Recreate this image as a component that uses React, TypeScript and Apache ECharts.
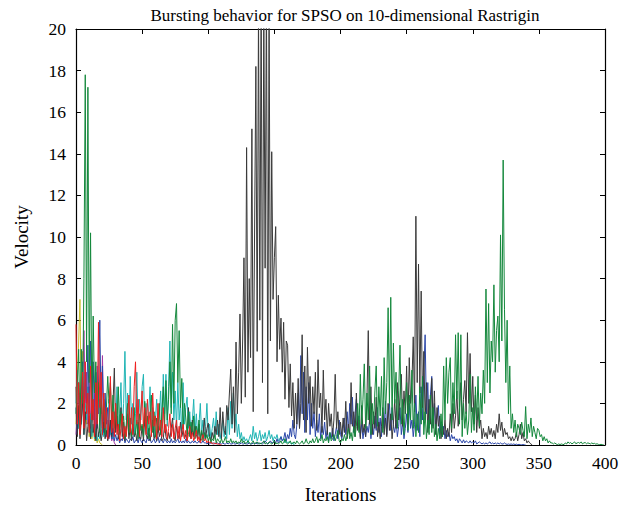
import React, { useEffect, useRef } from "react";
import * as echarts from "echarts";

const TITLE = "Bursting behavior for SPSO on 10-dimensional Rastrigin";
const X_NAME = "Iterations";
const Y_NAME = "Velocity";
const X_MIN = 0, X_MAX = 400, X_STEP = 50;
const Y_MIN = 0, Y_MAX = 20, Y_STEP = 2;

// velocity per iteration (index = iteration), one particle per array
const black = [
  2.8,0.4,1.9,0.3,1.2,2.1,0.5,1.6,0.2,0.9,
  1.4,0.3,2.2,0.6,1.0,0.2,1.3,0.4,0.8,0.2,
  0.6,1.1,0.3,0.7,0.2,0.5,1.2,0.4,2.0,3.7,
  0.6,1.4,0.3,0.9,1.8,0.4,1.1,0.2,0.7,1.5,
  0.3,0.8,0.2,1.0,0.4,0.6,0.2,1.1,0.4,0.3,
  0.9,0.2,1.4,0.5,0.3,0.8,0.2,0.6,1.2,0.3,
  0.5,0.2,0.9,0.4,0.7,0.2,0.3,1.0,0.4,0.2,
  0.6,0.3,0.8,1.3,0.4,0.2,0.9,0.5,0.3,1.1,
  0.4,0.7,0.3,0.5,0.2,1.8,0.6,0.3,1.2,0.4,
  0.9,0.5,0.3,1.0,0.2,0.6,0.4,1.3,0.3,0.8,
  1.05,0.4,0.2,0.6,0.3,0.9,0.5,1.2,0.4,1.8,
  0.3,1.6,0.7,0.5,1.9,1.2,2.5,3.65,1.0,2.8,
  0.6,4.95,1.5,3.5,6.3,2.0,5.0,9.0,2.3,14.3,
  3.5,8.0,4.2,15.2,1.6,10.0,18.2,4.5,21,6.0,
  22,3.0,21,8.5,22,1.5,21,5.0,14.1,7.0,
  9.0,10.5,4.0,7.2,4.6,6.1,3.5,5.9,2.2,5.0,
  4.8,1.8,3.9,1.4,3.0,0.8,2.5,1.0,3.2,0.8,
  2.0,5.3,1.2,3.8,0.6,4.7,2.0,3.3,0.9,2.8,
  1.5,3.5,0.7,4.1,1.8,2.5,0.6,3.6,1.2,2.2,
  0.5,2.0,0.9,1.5,0.4,1.2,3.4,0.8,1.6,0.5,
  1.1,0.4,1.3,0.6,2.1,0.3,1.0,0.5,3.0,0.9,
  1.6,0.4,2.5,0.7,1.2,0.3,1.9,0.6,1.0,0.4,
  2.2,5.5,1.0,2.8,0.5,1.6,0.8,2.3,0.4,1.1,
  0.3,0.9,1.8,0.5,1.3,0.4,2.0,0.7,1.5,0.3,
  1.0,2.2,0.8,3.0,1.2,2.4,3.4,0.9,2.6,1.5,
  3.8,1.0,4.2,2.0,3.0,5.2,1.6,11.0,3.0,8.7,
  2.5,7.4,1.8,4.5,1.2,3.0,0.6,2.2,1.0,3.2,
  0.8,2.6,0.5,1.8,0.9,1.4,0.3,1.0,0.5,1.2,
  0.3,0.8,0.4,1.5,0.6,2.0,0.8,1.4,2.6,0.9,
  1.8,3.0,1.2,2.2,3.1,1.5,5.4,2.0,4.4,1.6,
  3.3,1.0,2.4,0.6,1.8,0.8,1.2,0.3,0.8,0.4,
  0.6,0.3,0.9,0.5,0.8,0.4,0.7,0.3,1.0,0.6,
  1.5,0.7,1.1,0.4,0.8,0.5,0.6,0.3,0.4,0.2,
  0.4,0.2,0.3,0.6,0.2,0.5,1.0,0.3,0.6,0.2,
  0.3,0.1,0.2,0.1,0.05,0,
];

const green = [
  1.5,3.0,4.6,0.8,4.6,2.0,8.0,17.8,4.0,17.2,
  3.0,10.2,1.5,6.2,2.5,4.0,1.2,3.0,0.6,2.5,
  1.0,2.2,0.5,1.8,3.3,2.0,3.0,1.2,2.4,0.8,
  2.0,1.0,2.8,0.5,1.6,0.9,1.4,0.3,1.0,2.0,
  0.6,1.3,0.4,1.0,1.8,0.5,1.2,0.3,1.5,0.7,
  1.0,0.4,2.1,0.8,1.4,0.3,1.1,2.4,0.6,1.6,
  0.4,1.3,0.7,2.0,0.5,1.6,2.8,1.0,3.1,1.2,
  2.2,4.0,1.5,5.8,2.0,6.0,6.8,3.0,5.5,1.8,
  3.2,0.8,2.0,1.3,0.5,1.6,0.4,1.1,0.6,1.4,
  0.3,0.9,0.5,1.2,0.3,0.7,0.2,0.6,0.3,0.5,
  0.2,0.4,0.1,0.3,0.2,0.5,0.1,0.3,0.2,0.1,
  0.3,0.1,0.2,0.4,0.1,0.2,0.1,0.3,0.1,0.2,
  0.1,0.2,0.05,0.15,0.1,0.3,0.1,0.2,0.05,0.1,
  0.2,0.1,0.05,0.1,0.2,0.05,0.1,0.15,0.05,0.1,
  0.05,0.1,0.2,0.05,0.1,0.05,0.15,0.1,0.05,0.1,
  0.2,0.05,0.1,0.05,0.1,0.2,0.05,0.1,0.3,0.1,
  0.05,0.1,0.2,0.05,0.1,0.15,0.05,0.2,0.1,0.05,
  0.1,0.2,0.05,0.1,0.3,0.1,0.05,0.2,0.1,0.3,
  0.1,0.2,0.4,0.1,0.3,0.2,0.5,0.1,0.3,0.2,
  0.4,0.1,0.6,0.2,0.3,0.5,0.2,0.4,0.7,0.2,
  0.1,0.3,0.2,0.5,0.2,0.4,0.8,0.3,0.6,0.2,
  0.9,0.4,0.9,2.0,0.6,3.4,1.0,2.2,3.9,0.8,
  2.5,1.2,3.8,0.5,2.0,1.0,2.6,3.8,0.9,2.8,
  1.4,3.3,0.6,4.2,1.5,3.0,6.6,2.0,7.1,1.2,
  4.9,2.0,3.5,0.8,2.6,4.8,1.0,2.2,0.5,1.8,
  3.0,0.7,2.4,1.2,3.6,0.8,2.0,0.4,1.5,0.6,
  2.8,1.0,3.3,0.5,1.6,0.3,1.2,0.5,2.4,0.6,
  1.8,0.4,1.0,0.2,0.8,0.3,1.5,0.4,3.8,1.2,
  4.2,2.0,3.5,4.2,0.8,3.0,1.5,5.3,2.2,5.4,
  1.0,5.3,0.4,2.0,0.8,1.6,0.5,1.2,3.4,0.6,
  1.8,0.7,2.8,1.2,3.3,0.9,2.5,1.5,3.6,2.0,
  7.5,3.0,6.8,2.5,5.0,4.0,7.7,3.5,5.5,6.2,
  4.0,10.1,5.0,13.7,6.5,3.0,6.0,1.5,3.8,0.8,
  1.5,0.6,1.2,0.4,1.0,0.8,0.5,1.1,0.7,0.4,
  1.85,0.3,1.0,0.6,1.3,0.4,0.9,0.6,0.3,0.8,
  0.7,0.4,0.5,0.2,0.4,0.2,0.3,0.1,0.2,0.1,
  0.1,0.05,0.1,0.05,0.02,0.05,0.02,0.05,0.03,0.02,
  0.1,0.05,0.15,0.08,0.12,0.05,0.1,0.15,0.06,0.1,
  0.12,0.08,0.15,0.05,0.1,0.12,0.06,0.1,0.08,0.05,
  0.1,0.06,0.08,0.04,0.06,0.03,0.02,0.03,0.02,0.01,
];

const blue = [
  1.8,0.5,3.0,1.0,2.5,4.0,1.2,3.5,2.0,4.8,
  1.5,5.0,2.2,4.0,1.0,3.5,0.8,2.8,6.0,1.5,
  3.8,0.6,2.5,1.0,1.8,0.4,1.2,0.3,0.8,0.2,
  0.5,0.2,0.4,0.1,0.3,0.2,0.5,0.1,0.3,0.2,
  0.1,0.3,0.2,0.4,0.1,0.2,0.3,0.1,0.4,0.2,
  0.1,0.3,0.2,0.1,0.4,0.2,0.3,0.1,0.2,0.3,
  0.1,0.2,0.4,0.1,0.3,0.2,0.1,0.3,0.2,0.1,
  0.2,0.1,0.3,0.1,0.2,0.1,0.2,0.3,0.1,0.2,
  0.1,0.2,0.1,0.3,0.1,0.2,0.1,0.1,0.2,0.1,
  0.2,0.1,0.1,0.2,0.1,0.1,0.2,0.1,0.1,0.05,
  0.1,0.05,0.1,0.1,0.05,0.1,0.05,0.1,0.05,0.1,
  0.05,0.1,0.05,0.05,0.1,0.05,0.1,0.05,0.05,0.1,
  0.05,0.05,0.1,0.05,0.05,0.1,0.05,0.05,0.1,0.05,
  0.05,0.1,0.05,0.05,0.1,0.05,0.1,0.05,0.1,0.05,
  0.1,0.05,0.1,0.2,0.1,0.05,0.1,0.2,0.1,0.1,
  0.2,0.1,0.3,0.1,0.2,0.4,0.2,0.3,0.6,0.2,
  0.5,0.3,0.8,0.4,1.2,0.5,0.3,1.0,2.5,0.8,
  4.3,1.5,3.5,0.6,2.8,1.2,3.0,0.5,2.0,0.8,
  1.6,0.4,1.2,0.6,1.5,0.3,0.9,0.5,1.1,0.3,
  0.7,0.2,0.6,0.3,0.8,0.2,0.5,0.9,0.3,1.2,
  0.5,0.3,0.8,1.3,0.5,1.6,0.7,2.0,1.0,2.3,
  0.6,1.5,2.2,0.8,1.4,0.4,1.0,0.3,0.8,0.4,
  0.9,0.6,1.2,0.3,1.0,0.5,1.4,0.7,1.8,0.6,
  1.3,0.4,1.6,0.8,2.1,0.5,1.5,2.0,0.7,1.8,
  0.9,0.6,1.2,0.4,0.9,1.8,0.5,1.1,0.3,0.8,
  1.5,0.6,2.0,0.8,1.2,0.4,1.0,2.4,0.7,1.6,
  0.4,2.8,1.2,3.5,5.3,1.5,3.0,0.8,2.4,3.3,
  0.9,2.0,0.6,1.4,1.9,0.5,1.1,0.4,0.9,0.3,
  0.7,0.4,0.6,0.2,0.5,0.3,0.4,0.2,0.3,0.1,
  0.3,0.2,0.1,0.25,0.1,0.2,0.15,0.1,0.2,0.1,
  0.15,0.1,0.2,0.05,0.1,0.15,0.1,0.05,0.1,0.05,
  0.1,0.05,0.1,0.15,0.05,0.1,0.05,0.1,0.05,0.1,
  0.05,0.1,0.05,0.05,0.1,0.05,0.03,0.05,0.03,0.05,
  0.03,0.05,0.02,0.04,0.02,0.03,0.02,0.01,0.02,0.01,0,
];

const cyan = [
  2.0,3.6,0.8,2.5,1.0,3.0,0.5,2.0,1.2,2.8,
  0.6,1.5,0.4,1.0,0.3,0.8,0.2,0.6,0.3,0.5,
  1.2,0.4,1.8,0.6,1.0,2.2,0.5,1.4,0.3,1.6,
  0.8,2.8,0.7,1.5,3.0,0.6,2.0,4.5,1.2,2.5,
  0.5,3.3,1.0,2.0,0.4,1.5,3.5,0.8,2.2,1.2,
  2.8,3.4,0.9,2.0,0.5,1.6,2.8,0.7,1.8,0.4,
  1.2,2.2,0.6,1.4,2.6,0.8,3.4,1.5,3.4,0.9,
  2.8,5.0,1.8,3.5,1.2,2.6,0.8,3.0,1.2,2.0,
  0.5,3.0,1.0,1.8,2.3,0.8,1.6,0.5,1.2,2.2,
  0.6,1.5,0.4,1.0,2.0,0.5,1.2,0.3,0.9,2.0,
  0.4,1.0,0.3,0.8,1.3,0.4,1.6,0.5,1.0,0.3,
  0.7,1.2,0.4,0.9,0.3,1.8,0.5,2.1,0.8,2.5,
  0.7,1.5,0.4,1.0,0.3,0.6,0.2,0.4,0.2,0.3,
  0.1,0.3,0.5,0.2,0.9,0.3,0.6,0.2,0.4,0.7,
  0.2,0.5,0.3,0.6,0.2,0.4,0.7,0.3,0.5,0.2,
  0.4,0.3,0.5,0.2,0.3,0.4,0.2,0.3,0.1,0.2,
  0.1,0.15,0.1,0.05,0.1,0,
];

const red = [
  5.8,1.0,3.0,0.5,2.0,3.5,0.8,4.0,1.5,2.5,
  0.6,3.8,1.2,2.2,0.4,3.0,1.0,5.9,1.8,3.5,
  0.5,2.5,0.8,1.8,0.3,1.2,3.3,0.6,1.6,0.4,
  2.0,0.5,1.0,0.2,0.8,1.5,0.3,0.9,0.4,1.2,
  2.4,0.6,1.8,0.5,2.8,4.0,1.0,2.2,0.4,1.5,
  2.6,0.8,1.8,0.5,2.2,1.0,1.6,0.4,2.5,0.9,
  1.4,0.3,2.0,0.7,1.2,0.4,1.8,0.6,1.0,0.3,
  0.8,1.5,0.4,1.0,0.3,0.8,1.2,0.3,0.9,0.2,
  0.6,1.0,0.3,0.7,0.2,0.5,0.9,0.3,0.6,0.2,
  0.4,0.7,0.2,0.4,0.1,0.3,0.5,0.2,0.3,0.1,
  0.2,0.1,0.15,0.05,0.1,0.05,0.08,0.04,0.05,0.02,0,
];

const magenta = [
  0.5,1.5,0.8,2.5,1.0,3.0,5.5,2.0,3.5,1.0,
  2.8,0.8,4.0,1.2,2.5,0.5,3.8,1.5,2.2,0.8,
  4.3,1.0,2.0,0.4,1.2,0.3,0.7,0.2,0.4,0.1,0,
];

const yellow = [
  1.0,3.0,5.0,7.0,1.5,4.5,0.8,4.0,1.0,2.0,
  0.4,1.5,0.3,1.0,0.2,0.6,0.1,0.3,0.1,0.05,0,
];

// drawing order: first is bottom
const SERIES = [
  { name: "p7", values: yellow, color: "#c9bd2a" },
  { name: "p6", values: magenta, color: "#a23aa2" },
  { name: "p4", values: cyan, color: "#1fb4b4" },
  { name: "p3", values: blue, color: "#2a46a8" },
  { name: "p1", values: black, color: "#3a3a3a" },
  { name: "p2", values: green, color: "#14883c" },
  { name: "p5", values: red, color: "#ee2020" },
];

const FONT = "'Liberation Serif', 'DejaVu Serif', serif";

export default function App() {
  const ref = useRef<HTMLDivElement>(null);
  useEffect(() => {
    if (!ref.current) return;
    const chart = echarts.init(ref.current, null, { renderer: "svg" });
    const axisCommon = {
      axisLine: { show: true, onZero: false, lineStyle: { color: "#000", width: 1.2 } },
      axisTick: { show: true, inside: true, length: 5, lineStyle: { color: "#000", width: 1 } },
      splitLine: { show: false },
    };
    chart.setOption({
      animation: false,
      backgroundColor: "#fff",
      title: {
        text: TITLE,
        left: 340,
        textAlign: "center",
        top: 2,
        textStyle: { fontFamily: FONT, fontSize: 17, fontWeight: "normal", color: "#000" },
      },
      grid: { left: 76, right: 27, top: 29, bottom: 65, containLabel: false },
      xAxis: [
        {
          type: "value", min: X_MIN, max: X_MAX, interval: X_STEP, position: "bottom",
          name: X_NAME, nameLocation: "middle", nameGap: 40,
          nameTextStyle: { fontFamily: FONT, fontSize: 19, color: "#000" },
          axisLabel: { fontFamily: FONT, fontSize: 17.5, color: "#000", margin: 9 },
          ...axisCommon,
        },
        {
          type: "value", min: X_MIN, max: X_MAX, interval: X_STEP, position: "top",
          axisLabel: { show: false }, ...axisCommon,
        },
      ],
      yAxis: [
        {
          type: "value", min: Y_MIN, max: Y_MAX, interval: Y_STEP, position: "left",
          name: Y_NAME, nameLocation: "middle", nameGap: 45, nameRotate: 90,
          nameTextStyle: { fontFamily: FONT, fontSize: 19, color: "#000" },
          axisLabel: { fontFamily: FONT, fontSize: 17.5, color: "#000", margin: 10 },
          ...axisCommon,
        },
        {
          type: "value", min: Y_MIN, max: Y_MAX, interval: Y_STEP, position: "right",
          axisLabel: { show: false }, ...axisCommon,
        },
      ],
      series: SERIES.map((s, k) => ({
        name: s.name,
        type: "line",
        xAxisIndex: 0,
        yAxisIndex: 0,
        showSymbol: false,
        symbol: "none",
        clip: true,
        z: 2 + k,
        lineStyle: { color: s.color, width: 1 },
        data: s.values.map((v, i) => [i, v]),
      })),
    });
    return () => chart.dispose();
  }, []);
  return <div ref={ref} style={{ width: 632, height: 510, margin: -8 }} />;
}
